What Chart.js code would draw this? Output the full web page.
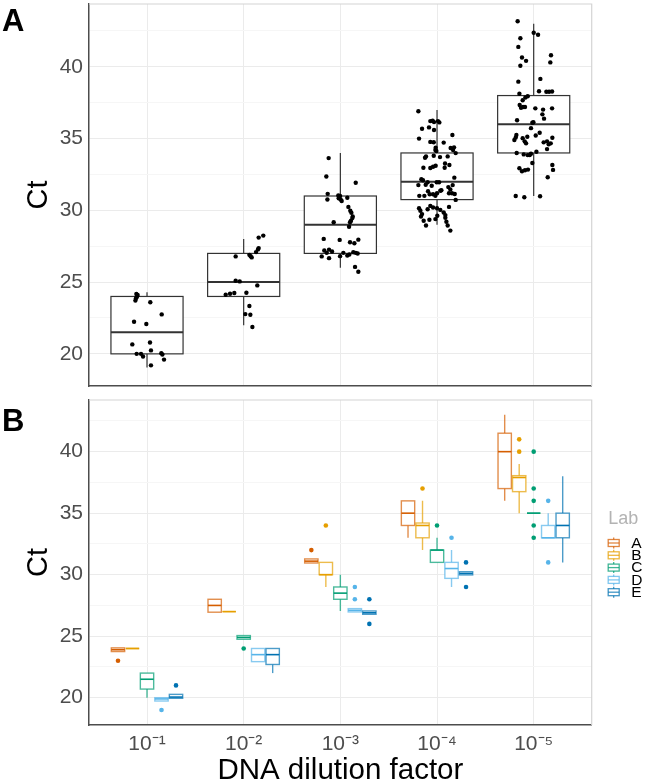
<!DOCTYPE html>
<html>
<head>
<meta charset="utf-8">
<script src="https://cdn.jsdelivr.net/npm/chart.js@4/dist/chart.umd.min.js"></script>
<style>
  body { margin: 0; background: #fff; width: 645px; height: 784px; position: relative; overflow: hidden; }
  .panel { position: absolute; left: 0; width: 645px; }
  #wrapA { top: 0; height: 390px; }
  #wrapB { top: 395px; height: 389px; }
  .tag { position: absolute; left: 2px; font: bold 31px "Liberation Sans", Arial, sans-serif; color: #000; }
</style>
</head>
<body>
<div class="panel" id="wrapA"><canvas id="chartA"></canvas></div>
<div class="panel" id="wrapB"><canvas id="chartB"></canvas></div>
<div class="tag" style="top:3px">A</div>
<div class="tag" style="top:403px">B</div>
<script>
const dilutions = ['10⁻¹', '10⁻²', '10⁻³', '10⁻⁴', '10⁻⁵'];
const yMajorTicks = [20, 25, 30, 35, 40];
const yMinorTicks = [22.5, 27.5, 32.5, 37.5, 42.5];

// panel A: box statistics per dilution
const boxMin = [19.05, 22.0, 26.0, 29.0, 31.0];
const boxQ1 = [20.0, 24.0, 27.0, 30.75, 34.0];
const boxMedian = [21.5, 25.0, 29.0, 32.0, 36.0];
const boxQ3 = [24.0, 27.0, 31.0, 34.0, 38.0];
const boxMax = [24.3, 28.0, 34.0, 37.0, 43.0];

// panel A: observations as [jitter, Ct]
const dil1Points = [[-0.11,24.17],[-0.097,24.1],[-0.103,23.99],[-0.114,23.87],[-0.12,23.71],[0.034,23.6],[0.152,22.75],[-0.134,22.24],[-0.007,22.08],[-0.152,20.66],[0.031,20.79],[0.041,20.24],[-0.107,20.0],[-0.062,20.0],[-0.041,19.82],[0.148,20.05],[0.159,19.96],[0.176,19.6],[0.041,19.2]];
const dil2Points = [[0.155,28.1],[0.203,28.24],[0.155,27.37],[0.148,27.28],[0.128,27.09],[-0.083,26.79],[0.059,26.9],[0.072,26.81],[0.083,26.72],[-0.083,25.09],[-0.041,25.05],[0.141,24.77],[-0.186,24.12],[-0.141,24.19],[-0.097,24.24],[0.028,24.26],[0.059,23.34],[0.017,22.77],[0.069,22.72],[0.09,21.87]];
const dil3Points = [[-0.121,33.64],[-0.145,32.36],[0.159,31.92],[-0.131,31.15],[-0.134,30.76],[-0.021,31.04],[-0.003,31.0],[-0.017,30.84],[0.003,30.76],[0.014,30.65],[0.072,30.88],[0.083,30.24],[0.103,29.97],[0.114,29.83],[0.128,29.57],[0.124,29.46],[0.11,29.28],[0.1,29.17],[-0.069,29.17],[0.09,28.86],[-0.172,28.01],[-0.007,27.94],[0.1,27.78],[0.145,27.71],[0.186,27.96],[-0.166,27.2],[-0.117,27.26],[-0.086,27.13],[-0.141,27.04],[0.031,27.04],[0.072,26.85],[0.093,26.92],[0.134,27.08],[0.159,27.04],[0.179,26.99],[-0.193,26.79],[-0.117,26.67],[-0.003,26.81],[0.152,26.06],[0.186,25.72]];
const dil4Points = [[-0.193,36.91],[-0.069,36.22],[-0.045,36.24],[-0.031,36.15],[0.01,36.22],[0.024,36.13],[-0.155,35.69],[-0.083,35.78],[-0.031,35.6],[0.159,35.25],[-0.186,35.0],[-0.069,34.77],[-0.034,34.75],[0.069,34.72],[-0.014,34.37],[-0.017,34.21],[-0.007,34.14],[0.141,34.35],[0.176,34.39],[0.166,34.21],[0.193,33.99],[-0.114,33.76],[-0.124,33.67],[-0.034,33.8],[0.031,33.71],[0.11,33.76],[-0.014,33.11],[0.083,33.27],[0.128,33.16],[-0.069,32.95],[-0.041,33.04],[-0.141,32.97],[0.079,32.97],[0.179,32.28],[-0.162,32.17],[-0.145,32.1],[-0.097,31.96],[-0.003,31.96],[0.021,31.96],[-0.193,31.76],[-0.117,31.78],[-0.055,31.71],[0.162,31.76],[0.034,31.37],[0.117,31.62],[0.138,31.46],[-0.093,31.33],[-0.076,31.12],[-0.041,31.12],[-0.017,31.01],[0,31.19],[0.045,31.4],[-0.183,31.01],[-0.131,31.01],[0.124,31.19],[0.155,31.19],[0.183,31.14],[0.193,30.73],[-0.186,30.15],[-0.172,29.97],[-0.155,29.74],[-0.097,30.08],[-0.069,30.31],[-0.041,30.2],[0,30.15],[0.034,30.03],[0.069,29.85],[0.086,29.67],[0.124,30.24],[-0.166,29.57],[-0.138,29.28],[-0.079,29.35],[-0.114,28.94],[-0.017,29.39],[0.003,29.62],[0.086,29.48],[0.097,29.21],[0.11,28.94],[0.138,28.59]];
const dil5Points = [[-0.166,43.18],[0,42.38],[0.045,42.24],[-0.138,41.99],[-0.159,41.39],[-0.121,40.65],[-0.079,40.42],[0.179,40.81],[0.172,40.31],[-0.138,40.08],[0.069,39.16],[-0.159,38.97],[0.055,38.3],[0.131,38.26],[0.159,38.26],[0.19,38.28],[-0.148,38.13],[-0.114,37.67],[-0.062,37.95],[-0.086,37.86],[-0.145,37.34],[-0.11,37.2],[-0.131,37.15],[-0.09,37.2],[0.017,37.11],[0.097,37.02],[0.19,37.11],[0.09,36.69],[0.107,36.39],[-0.172,36.28],[-0.014,36.1],[-0.003,36.14],[-0.028,35.73],[0.062,35.41],[0.021,35.22],[-0.066,35.13],[-0.179,35.25],[-0.2,34.9],[-0.186,35.08],[-0.114,35.02],[-0.093,34.81],[-0.079,34.67],[0.103,34.74],[0.138,34.81],[0.176,34.67],[0.155,34.6],[0.193,35.06],[0.138,34.27],[-0.176,34.0],[-0.103,33.9],[-0.062,33.85],[-0.041,33.85],[-0.028,33.94],[0.028,34.08],[-0.014,33.3],[-0.148,32.93],[-0.121,32.72],[-0.09,32.79],[-0.059,32.84],[0.193,33.16],[0.2,32.82],[0.145,32.31],[-0.186,31.0],[-0.097,30.91],[0.066,30.98]];

// panel B: per lab [min, q1, median, q3, max] for each dilution
const labs = ['A', 'B', 'C', 'D', 'E'];
const labColors = ['#D55E00', '#E69F00', '#009E73', '#56B4E9', '#0072B2'];
const labAStats = [[23.75,23.75,23.9,24.05,24.05],[26.95,26.95,27.5,28,28],[30.95,30.95,31.1,31.28,31.28],[33,34,35,36,36],[36,37,40,41.5,43]];
const labBStats = [[24,24,24,24,24],[27,27,27,27,27],[29,30,30,31,31],[32,33,34,34.2,36],[35,36.75,37.9,38.05,39]];
const labCStats = [[20,20.7,21.5,22,22],[24.75,24.75,24.9,25.05,25.05],[27.05,28,28.5,29,30],[31,31,32,32,33],[35,35,35,35,35]];
const labDStats = [[19.73,19.73,19.9,20,20],[22.93,22.93,23.5,24,24],[26.97,26.97,27.1,27.24,27.24],[29,29.7,30.5,31,32],[33,33,33,34,35]];
const labEStats = [[19.95,19.95,20.05,20.27,20.27],[22,22.7,23.5,24,24],[26.78,26.78,26.9,27.05,27.05],[29.98,29.98,30.1,30.24,30.24],[31,33,34,35,38]];
// outliers as [dilution (1-5), Ct]
const labAOutliers = [[1,23],[3,32]];
const labBOutliers = [[3,34],[4,37],[5,40],[5,41]];
const labCOutliers = [[2,24],[4,34],[5,40],[5,37],[5,36],[5,34],[5,33]];
const labDOutliers = [[1,19],[3,29],[3,28],[4,33],[5,36],[5,31]];
const labEOutliers = [[1,21],[3,28],[3,26],[4,31],[4,29]];

const labStats = [labAStats, labBStats, labCStats, labDStats, labEStats];
const labOutliers = [labAOutliers, labBOutliers, labCOutliers, labDOutliers, labEOutliers];
const dilPoints = [dil1Points, dil2Points, dil3Points, dil4Points, dil5Points];

const FONT = '"Liberation Sans", Arial, sans-serif';
const AXIS_DARK = '#4d4d4d';
const PLOT_LEFT = 89;
const PLOT_RIGHT_PAD = 53.3;

function hexToRgba(hex, a) {
  const n = parseInt(hex.slice(1), 16);
  return `rgba(${(n >> 16) & 255},${(n >> 8) & 255},${n & 255},${a})`;
}

function drawBox(chart, xc, halfW, stats, color, lineW, medColor, medW) {
  const { ctx } = chart;
  const xs = chart.scales.x, ys = chart.scales.y;
  const [mn, q1, md, q3, mx] = stats.map(v => ys.getPixelForValue(v));
  const l = xs.getPixelForValue(xc - halfW);
  const r = xs.getPixelForValue(xc + halfW);
  const c = xs.getPixelForValue(xc);
  ctx.save();
  ctx.strokeStyle = color;
  ctx.lineWidth = lineW;
  ctx.beginPath();
  ctx.moveTo(c, mn); ctx.lineTo(c, q1);
  ctx.moveTo(c, q3); ctx.lineTo(c, mx);
  ctx.stroke();
  ctx.fillStyle = '#fff';
  ctx.fillRect(l, q3, r - l, q1 - q3);
  ctx.strokeRect(l, q3, r - l, q1 - q3);
  ctx.strokeStyle = medColor;
  ctx.lineWidth = medW;
  ctx.beginPath();
  ctx.moveTo(l, md); ctx.lineTo(r, md);
  ctx.stroke();
  ctx.restore();
}

// light top/right panel border
const panelBorder = {
  id: 'panelBorder',
  beforeDatasetsDraw(chart) {
    const { ctx, chartArea: a } = chart;
    ctx.save();
    ctx.strokeStyle = '#d4d4d4';
    ctx.lineWidth = 1.2;
    ctx.beginPath();
    ctx.moveTo(a.left, a.top); ctx.lineTo(a.right, a.top); ctx.lineTo(a.right, a.bottom);
    ctx.stroke();
    ctx.restore();
  }
};

function scaleOptions(showX, ymin, ymax, xAxisHeight) {
  return {
    x: {
      type: 'linear', min: 0.4, max: 5.6,
      afterBuildTicks: axis => { axis.ticks = [1, 2, 3, 4, 5].map(v => ({ value: v })); },
      afterFit: axis => { axis.height = xAxisHeight; axis.paddingLeft = 0; axis.paddingRight = 0; },
      grid: { color: '#ebebeb', lineWidth: 1, drawTicks: false },
      border: { color: AXIS_DARK, width: 1.5 },
      ticks: {
        display: showX, padding: 7, color: AXIS_DARK,
        font: { family: FONT, size: 21 },
        callback: v => dilutions[v - 1]
      },
      title: {
        display: showX, text: 'DNA dilution factor', color: '#000',
        font: { family: FONT, size: 29.5, lineHeight: 1.0 }, padding: { top: 0, bottom: -2 }
      }
    },
    y: {
      min: ymin, max: ymax,
      afterBuildTicks: axis => {
        axis.ticks = yMajorTicks.concat(yMinorTicks).sort((a, b) => a - b).map(v => ({ value: v }));
      },
      afterFit: axis => { axis.width = PLOT_LEFT; axis.paddingTop = 0; axis.paddingBottom = 0; },
      grid: {
        drawTicks: false,
        color: c => yMajorTicks.includes(c.tick.value) ? '#ebebeb' : '#f6f6f6'
      },
      border: { color: AXIS_DARK, width: 1.5 },
      ticks: {
        padding: 6, color: AXIS_DARK,
        font: { family: FONT, size: 21 },
        callback: v => yMajorTicks.includes(v) ? String(v) : ''
      },
      title: {
        display: true, text: 'Ct', color: '#000',
        font: { family: FONT, size: 29, lineHeight: 1.2 }, padding: { top: 22, bottom: 0 }
      }
    }
  };
}

// ---------- panel A ----------
const boxesA = {
  id: 'boxesA',
  beforeDatasetsDraw(chart) {
    for (let i = 0; i < 5; i++) {
      drawBox(chart, i + 1, 0.373,
        [boxMin[i], boxQ1[i], boxMedian[i], boxQ3[i], boxMax[i]],
        '#333', 1.2, '#333', 2);
    }
  }
};

new Chart(document.getElementById('chartA'), {
  type: 'scatter',
  data: {
    datasets: [{
      data: dilPoints.flatMap((pts, i) => pts.map(p => ({ x: i + 1 + p[0], y: p[1] }))),
      backgroundColor: '#000', borderWidth: 0, pointRadius: 2.2
    }]
  },
  options: {
    responsive: true, maintainAspectRatio: false, animation: false,
    layout: { padding: { top: 1, right: PLOT_RIGHT_PAD, left: 0, bottom: 0 } },
    plugins: { legend: { display: false }, tooltip: { enabled: false } },
    scales: scaleOptions(false, 17.76, 44.38, 3)
  },
  plugins: [panelBorder, boxesA]
});

// ---------- panel B ----------
const boxesB = {
  id: 'boxesB',
  beforeDatasetsDraw(chart) {
    labStats.forEach((stats, li) => {
      stats.forEach((s, di) => {
        drawBox(chart, di + 1 + (li - 2) * 0.15, 0.069, s,
          hexToRgba(labColors[li], 0.7), 1.4, labColors[li], 1.6);
      });
    });
  }
};

const legendB = {
  id: 'legendB',
  afterDraw(chart) {
    const { ctx, chartArea: a } = chart;
    const x0 = a.right + 16.5;
    ctx.save();
    ctx.fillStyle = '#b3b3b3';
    ctx.font = `18px ${FONT}`;
    ctx.textBaseline = 'middle';
    ctx.fillText('Lab', x0, 124);
    labs.forEach((lab, i) => {
      const yc = 148 + i * 12.3;
      const cx = x0 + 5.5;
      ctx.strokeStyle = hexToRgba(labColors[i], 0.75);
      ctx.lineWidth = 1.3;
      ctx.beginPath();
      ctx.moveTo(cx, yc - 5.5); ctx.lineTo(cx, yc - 3.5);
      ctx.moveTo(cx, yc + 3.5); ctx.lineTo(cx, yc + 5.5);
      ctx.stroke();
      ctx.strokeRect(x0, yc - 3.5, 11, 7);
      ctx.beginPath(); ctx.moveTo(x0, yc); ctx.lineTo(x0 + 11, yc); ctx.stroke();
      ctx.fillStyle = '#000';
      ctx.font = `15.5px ${FONT}`;
      ctx.fillText(lab, x0 + 23, yc + 0.5);
    });
    ctx.restore();
  }
};

new Chart(document.getElementById('chartB'), {
  type: 'scatter',
  data: {
    datasets: labOutliers.map((outs, li) => ({
      label: labs[li],
      data: outs.map(o => ({ x: o[0] + (li - 2) * 0.15, y: o[1] })),
      backgroundColor: labColors[li], borderWidth: 0, pointRadius: 2.3
    }))
  },
  options: {
    responsive: true, maintainAspectRatio: false, animation: false,
    layout: { padding: { top: 5, right: PLOT_RIGHT_PAD, left: 0, bottom: 0 } },
    plugins: { legend: { display: false }, tooltip: { enabled: false } },
    scales: scaleOptions(true, 17.78, 44.2, 59)
  },
  plugins: [panelBorder, boxesB, legendB]
});
</script>
</body>
</html>
